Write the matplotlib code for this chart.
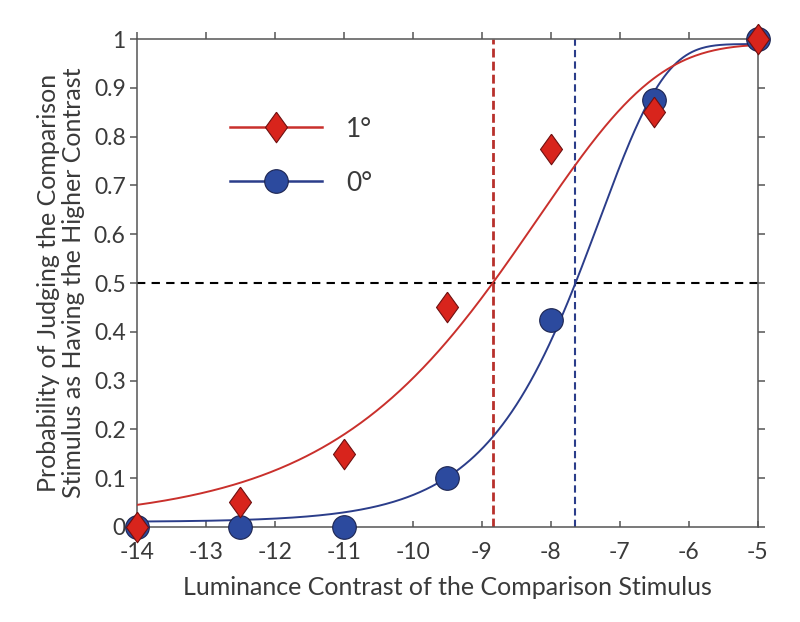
import numpy as np
import matplotlib
matplotlib.use("Agg")
import matplotlib.pyplot as plt
from matplotlib.lines import Line2D

plt.rcParams['font.family'] = ['Lato', 'DejaVu Sans']
plt.rcParams['axes.unicode_minus'] = False

# valeurs
contraste = [-14, -12.5, -11, -9.5, -8, -6.5, -5]
p_1deg = [0.0, 0.05, 0.15, 0.45, 0.775, 0.85, 1.0]
p_0deg = [0.0, 0.0, 0.0, 0.10, 0.425, 0.875, 1.0]
labels = ["1°", "0°"]

# fonctions psychométriques ajustées : seuil (50 %), pente, guess / lapse
seuil_1deg, pente_1deg = -8.84, 1.75
seuil_0deg, pente_0deg = -7.64, 0.95
guess, lapse = 0.01, 0.01

ROUGE = "#c9302c"
ROUGE_M = "#d8241c"
ROUGE_T = "#b8302c"
BLEU = "#2b3d8a"
BLEU_M = "#2c4a9e"
GRIS = "#555555"
TEXTE = "#3a3a3a"


def psy(x, seuil, pente):
    z = (x - seuil) / pente + np.log(np.log(2))
    return guess + (1 - guess - lapse) * (1 - np.exp(-np.exp(z)))


diamant = [(0, 1), (0.72, 0), (0, -1), (-0.72, 0), (0, 1)]

fig = plt.figure(figsize=(8, 6.22), dpi=100)
ax = fig.add_axes([0.171, 0.153, 0.776, 0.784])

xx = np.linspace(-14, -5, 400)
ax.plot(xx, psy(xx, seuil_0deg, pente_0deg), color=BLEU, lw=1.4, zorder=3)
ax.plot(xx, psy(xx, seuil_1deg, pente_1deg), color=ROUGE, lw=1.4, zorder=3)

ax.axhline(0.5, color="black", lw=1.5, dashes=(4, 3), zorder=2)
ax.plot([seuil_1deg, seuil_1deg], [0, 1], color=ROUGE_T, lw=2.0, dashes=(3.2, 1.5), zorder=2)
ax.plot([seuil_0deg, seuil_0deg], [0, 1], color=BLEU, lw=1.5, dashes=(3.5, 2), zorder=2)

ax.plot(contraste, p_0deg, ls="none", marker="o", ms=17, mfc=BLEU_M, mec="#1c2450",
        mew=0.8, clip_on=False, zorder=5)
ax.plot(contraste, p_1deg, ls="none", marker=diamant, ms=22, mfc=ROUGE_M, mec="#6e1010",
        mew=0.8, clip_on=False, zorder=6)

ax.set_xlim(-14, -5)
ax.set_ylim(0, 1)
ax.set_xticks(np.arange(-14, -4, 1))
ax.set_yticks(np.arange(0, 1.01, 0.1))
ax.set_yticklabels(["0"] + [f"{v:.1f}" for v in np.arange(0.1, 0.95, 0.1)] + ["1"])

for s in ax.spines.values():
    s.set_color(GRIS)
    s.set_linewidth(1.1)
ax.tick_params(axis="both", colors=GRIS, labelcolor=TEXTE, labelsize=16.5, width=1.1)
ax.tick_params(axis="y", which="both", direction="out", length=5, pad=3, right=True)
ax.tick_params(axis="x", direction="in", length=4, pad=11, top=False)
# graduations du haut vers l'extérieur
ax_top = ax.secondary_xaxis("top")
ax_top.set_xticks(np.arange(-14, -4, 1))
ax_top.tick_params(direction="out", length=5, colors=GRIS, width=1.1, labeltop=False)
ax_top.spines["top"].set_visible(False)

ax.set_xlabel("Luminance Contrast of the Comparison Stimulus", fontsize=18, color=TEXTE, labelpad=9)
ax.set_ylabel("Probability of Judging the Comparison\nStimulus as Having the Higher Contrast",
              fontsize=18, color=TEXTE, labelpad=6, linespacing=1.15)

poignees = [
    Line2D([], [], color=ROUGE, lw=1.8, marker=diamant, ms=22, mfc=ROUGE_M, mec="#6e1010", mew=0.8),
    Line2D([], [], color=BLEU, lw=1.8, marker="o", ms=17, mfc=BLEU_M, mec="#1c2450", mew=0.8),
]
ax.legend(poignees, labels, loc="center left", bbox_to_anchor=(0.15, 0.76), frameon=False,
          fontsize=19, handlelength=3.5, handletextpad=0.9, labelspacing=1.1,
          borderpad=0, borderaxespad=0, labelcolor=TEXTE)

fig.savefig("out.png", dpi=100)
